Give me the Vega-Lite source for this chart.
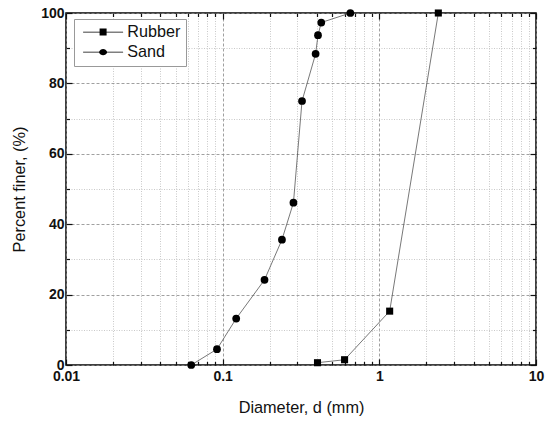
{
  "$schema": "https://vega.github.io/schema/vega-lite/v6.json",
  "width": 470,
  "height": 352,
  "autosize": {"type": "none"},
  "padding": {"left": 66, "top": 13, "right": 9, "bottom": 57},
  "background": "white",
  "config": {
    "view": {"stroke": "black", "strokeWidth": 1.5},
    "font": "Liberation Sans"
  },
  "data": {
    "values": [
      {"series": "Sand", "d": 0.063, "p": 0},
      {"series": "Sand", "d": 0.092, "p": 4.5},
      {"series": "Sand", "d": 0.122, "p": 13.2},
      {"series": "Sand", "d": 0.185, "p": 24.2},
      {"series": "Sand", "d": 0.239, "p": 35.6},
      {"series": "Sand", "d": 0.283, "p": 46.1},
      {"series": "Sand", "d": 0.321, "p": 75.0},
      {"series": "Sand", "d": 0.392, "p": 88.4},
      {"series": "Sand", "d": 0.406, "p": 93.7},
      {"series": "Sand", "d": 0.426, "p": 97.3},
      {"series": "Sand", "d": 0.653, "p": 100},
      {"series": "Rubber", "d": 0.403, "p": 0.65},
      {"series": "Rubber", "d": 0.6, "p": 1.5},
      {"series": "Rubber", "d": 1.164, "p": 15.3},
      {"series": "Rubber", "d": 2.38, "p": 100}
    ]
  },
  "resolve": {"axis": {"x": "independent", "y": "independent"}, "scale": {"shape": "independent"}},
  "layer": [
    {
      "mark": {"type": "line", "stroke": "#555", "strokeWidth": 0.8},
      "encoding": {
        "x": {
          "field": "d", "type": "quantitative",
          "scale": {"type": "log", "domain": [0.01, 10], "nice": false},
          "axis": {
            "orient": "bottom",
            "title": "Diameter, d (mm)",
            "titleFont": "Liberation Sans", "titleFontSize": 16.3, "titleFontWeight": "normal", "titleColor": "#111",
            "titlePadding": 14,
            "values": [0.01,0.02,0.03,0.04,0.05,0.06,0.07,0.08,0.09,0.1,0.2,0.3,0.4,0.5,0.6,0.7,0.8,0.9,1,2,3,4,5,6,7,8,9,10],
            "labelExpr": "abs(log(datum.value)/LN10 - round(log(datum.value)/LN10)) < 0.001 ? format(datum.value, '~g') : ''",
            "labelFont": "Liberation Sans", "labelFontSize": 14, "labelFontWeight": "bold", "labelColor": "#111",
            "labelPadding": 10, "labelFlush": false, "labelOverlap": false,
            "domain": false,
            "ticks": true, "tickColor": "#111", "tickWidth": 1.2,
            "tickSize": {"condition": {"test": "abs(log(datum.value)/LN10 - round(log(datum.value)/LN10)) < 0.001", "value": -6}, "value": -3.5},
            "grid": true,
            "gridColor": {"condition": {"test": "abs(log(datum.value)/LN10 - round(log(datum.value)/LN10)) < 0.001", "value": "#888"}, "value": "#bbb"},
            "gridDash": {"condition": {"test": "abs(log(datum.value)/LN10 - round(log(datum.value)/LN10)) < 0.001", "value": [3, 2]}, "value": [1, 1.5]},
            "gridWidth": 0.8
          }
        },
        "y": {
          "field": "p", "type": "quantitative",
          "scale": {"domain": [0, 100], "nice": false},
          "axis": {
            "orient": "left",
            "title": "Percent finer, (%)",
            "titleFont": "Liberation Sans", "titleFontSize": 16.3, "titleFontWeight": "normal", "titleColor": "#111",
            "titlePadding": 13,
            "values": [0,10,20,30,40,50,60,70,80,90,100],
            "labelExpr": "datum.value % 20 == 0 ? datum.label : ''",
            "labelFont": "Liberation Sans", "labelFontSize": 14, "labelFontWeight": "bold", "labelColor": "#111",
            "labelPadding": 8, "labelFlush": false, "labelOverlap": false,
            "domain": false,
            "ticks": true, "tickColor": "#111", "tickWidth": 1.2,
            "tickSize": {"condition": {"test": "datum.value % 20 == 0", "value": -6}, "value": -3.5},
            "grid": true,
            "gridColor": {"condition": {"test": "datum.value % 20 == 0", "value": "#888"}, "value": "#bbb"},
            "gridDash": {"condition": {"test": "datum.value % 20 == 0", "value": [3, 2]}, "value": [1, 1.5]},
            "gridWidth": 0.8
          }
        },
        "detail": {"field": "series"}
      }
    },
    {
      "mark": {"type": "point", "filled": true, "color": "black", "opacity": 1},
      "encoding": {
        "x": {"field": "d", "type": "quantitative", "axis": null},
        "y": {"field": "p", "type": "quantitative", "axis": null},
        "shape": {
          "field": "series", "type": "nominal",
          "scale": {"domain": ["Rubber", "Sand"], "range": ["square", "circle"]},
          "legend": null
        },
        "size": {
          "field": "series", "type": "nominal",
          "scale": {"domain": ["Rubber", "Sand"], "range": [50, 60]},
          "legend": null
        }
      }
    },
    {
      "mark": {"type": "point", "filled": true, "color": "black", "opacity": 0},
      "encoding": {
        "x": {
          "field": "d", "type": "quantitative",
          "axis": {
            "orient": "top", "title": null, "labels": false, "domain": false, "grid": false,
            "values": [0.01,0.02,0.03,0.04,0.05,0.06,0.07,0.08,0.09,0.1,0.2,0.3,0.4,0.5,0.6,0.7,0.8,0.9,1,2,3,4,5,6,7,8,9,10],
            "tickColor": "#111", "tickWidth": 1.2,
            "tickSize": {"condition": {"test": "abs(log(datum.value)/LN10 - round(log(datum.value)/LN10)) < 0.001", "value": -6}, "value": -3.5}
          }
        },
        "y": {
          "field": "p", "type": "quantitative",
          "axis": {
            "orient": "right", "title": null, "labels": false, "domain": false, "grid": false,
            "values": [0,10,20,30,40,50,60,70,80,90,100],
            "tickColor": "#111", "tickWidth": 1.2,
            "tickSize": {"condition": {"test": "datum.value % 20 == 0", "value": -6}, "value": -3.5}
          }
        },
        "shape": {
          "field": "series", "type": "nominal",
          "scale": {"domain": ["Rubber", "Sand"], "range": ["M-4,-0.08H-0.7V-0.7H0.7V-0.08H4V0.08H0.7V0.7H-0.7V0.08H-4Z", "M-4,-0.08H-0.8A0.85,0.85,0,0,1,0.8,-0.08H4V0.08H0.8A0.85,0.85,0,0,1,-0.8,0.08H-4Z"]},
          "legend": {
            "title": null,
            "orient": "none",
            "legendX": 8,
            "legendY": 6,
            "padding": 5,
            "fillColor": "white",
            "strokeColor": "#999",
            "symbolSize": 100,
            "symbolOffset": 16,
            "labelOffset": 16,
            "labelFont": "Liberation Sans",
            "labelFontSize": 16.2,
            "labelColor": "#111",
            "rowPadding": 3,
            "encode": {
              "symbols": {
                "update": {
                  "opacity": {"value": 1},
                  "fill": {"value": "black"},
                  "fillOpacity": {"value": 1},
                  "strokeWidth": {"value": 0}
                }
              }
            }
          }
        }
      }
    }
  ]
}
